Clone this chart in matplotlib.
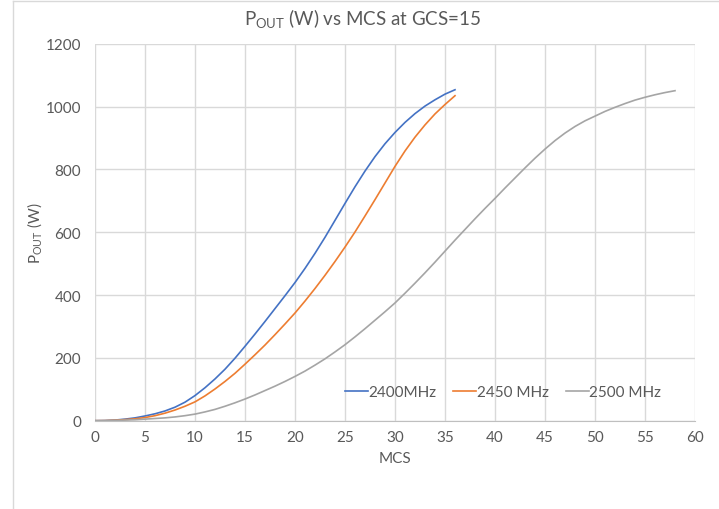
import matplotlib
matplotlib.use("Agg")
import matplotlib.pyplot as plt
from matplotlib.lines import Line2D

# values (one per MCS step)
mcs_a = list(range(0, 37))
p_2400 = [0, 0.5, 2, 5, 9, 15, 22, 31, 43, 59, 80, 105, 133, 164, 199, 237,
          276, 316, 357, 398, 440, 485, 533, 584, 638, 692, 745, 795, 841, 882,
          918, 950, 978, 1002, 1022, 1040, 1054]
p_2450 = [0, 0.3, 1.5, 3.5, 6, 10, 16, 24, 34, 46, 60, 79, 101, 125, 151, 180,
          210, 241, 274, 308, 343, 381, 421, 463, 507, 553, 601, 652, 704, 757,
          810, 859, 903, 942, 977, 1007, 1035]

mcs_b = list(range(0, 59))
p_2500 = [0, 0, 1, 2, 3, 5, 7, 9, 12, 16, 21, 28, 36, 46, 57, 69, 82, 96, 110,
          125, 141, 158, 177, 197, 219, 242, 267, 293, 320, 347, 375, 406, 438,
          471, 505, 540, 575, 609, 643, 676, 708, 741, 773, 805, 836, 865, 892,
          916, 937, 955, 970, 985, 998, 1010, 1021, 1030, 1038, 1045, 1051]

labels = ["2400MHz", "2450 MHz", "2500 MHz"]
colors = ["#4472C4", "#ED7D31", "#A5A5A5"]

plt.rcParams["font.family"] = ["Lato", "DejaVu Sans"]
plt.rcParams["mathtext.default"] = "regular"
txt = "#595959"
grid = "#D9D9D9"

fig = plt.figure(figsize=(7.19, 5.10), dpi=100)
ax = fig.add_axes([95 / 719, 1 - 421.7 / 510, 600 / 719, 376.8 / 510])

ax.plot(mcs_a, p_2400, color=colors[0], lw=1.2, label=labels[0])
ax.plot(mcs_a, p_2450, color=colors[1], lw=1.2, label=labels[1])
ax.plot(mcs_b, p_2500, color=colors[2], lw=1.2, label=labels[2])

ax.set_xlim(0, 60)
ax.set_ylim(0, 1200)
ax.set_xticks(range(0, 61, 5))
ax.set_yticks(range(0, 1201, 200))
ax.grid(True, color=grid, lw=1)
ax.set_axisbelow(True)
for s in ["top", "right", "left"]:
    ax.spines[s].set_visible(False)
ax.spines["bottom"].set_color("#BFBFBF")
ax.tick_params(length=0, labelsize=11, labelcolor=txt)
ax.tick_params(axis="y", pad=10)
ax.tick_params(axis="x", pad=7)

ax.set_xlabel("MCS", fontsize=11, color=txt, labelpad=5)
ax.set_ylabel("P$_{OUT}$ (W)", fontsize=11, color=txt, labelpad=1)
fig.text(363 / 719, 1 - 19 / 510, "P$_{OUT}$ (W) vs MCS at GCS=15",
         ha="center", va="center", fontsize=13.5, color=txt)

ax.legend(loc="center", bbox_to_anchor=(0.6996, 0.2294), bbox_transform=fig.transFigure,
          ncol=3, frameon=False, fontsize=11, labelcolor=txt, handlelength=1.5,
          handletextpad=0.05, columnspacing=1.1)

# chart area border
fig.add_artist(Line2D([12.5 / 719, 12.5 / 719], [0, 1 - 1.5 / 510], color=grid, lw=1,
                      transform=fig.transFigure))
fig.add_artist(Line2D([12.5 / 719, 1], [1 - 1.5 / 510, 1 - 1.5 / 510], color=grid, lw=1,
                      transform=fig.transFigure))

fig.savefig("out.png", dpi=100)
